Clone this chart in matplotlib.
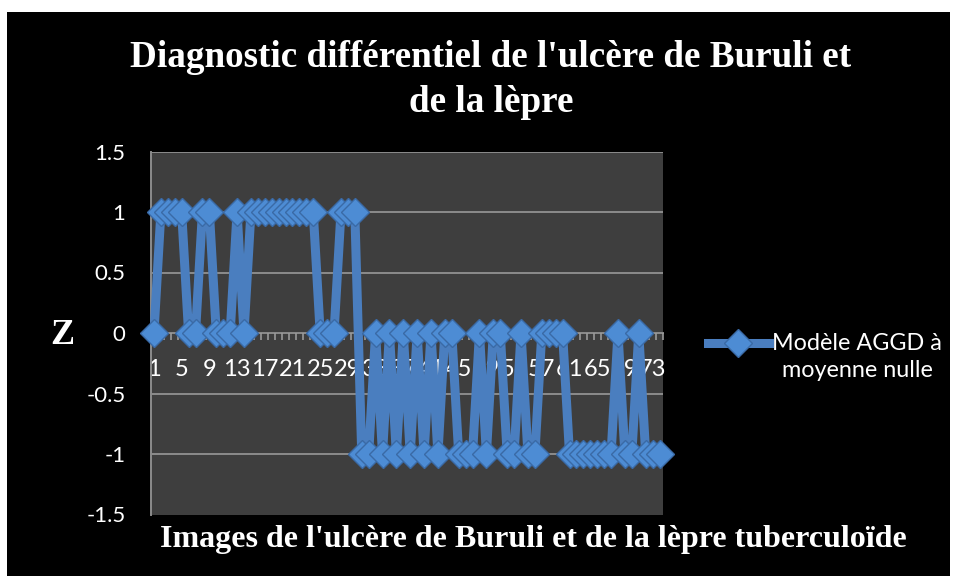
import matplotlib
matplotlib.use('Agg')
import matplotlib.pyplot as plt
from matplotlib.patches import Rectangle
from matplotlib.lines import Line2D
from matplotlib.ticker import FixedLocator, FixedFormatter
from matplotlib.legend_handler import HandlerLine2D

# ---- data ----
categories = list(range(1, 75))
z_values = [0, 1, 1, 1, 1, 0, 0, 1, 1, 0, 0, 0, 1, 0, 1, 1, 1, 1, 1, 1, 1, 1, 1, 1, 0, 0, 0, 1, 1, 1,
            -1, -1, 0, -1, 0, -1, 0, -1, 0, -1, 0, -1, 0, 0, -1, -1, -1, 0, -1, 0, 0, -1, -1, 0, -1, -1, 0, 0, 0, 0,
            -1, -1, -1, -1, -1, -1, -1, 0, -1, -1, 0, -1, -1, -1]
x_tick_labels = [str(c) for c in categories[::4]]
y_ticks = [1.5, 1, 0.5, 0, -0.5, -1, -1.5]
y_tick_labels = ['1.5', '1', '0.5', '0', '-0.5', '-1', '-1.5']
series_name = "Modèle AGGD à\nmoyenne nulle"
title = "Diagnostic différentiel de l'ulcère de Buruli et\nde la lèpre"
x_title = "Images de l'ulcère de Buruli et de la lèpre tuberculoïde"
y_title = "Z"

W, H = 957, 581
fig = plt.figure(figsize=(W / 100, H / 100), dpi=100)
fig.patch.set_facecolor('white')
bg = Rectangle((7 / W, 5 / H), 943 / W, 564 / H, transform=fig.transFigure,
               facecolor='black', edgecolor='none', zorder=-10)
fig.patches.append(bg)

left, right = 150.5 / W, 663 / W
bottom, top = 1 - 514.5 / H, 1 - 151.5 / H
ax = fig.add_axes([left, bottom, right - left, top - bottom])
ax.set_facecolor('#3e3e3e')

line_color = '#4a7ebf'
mk = dict(marker='D', markersize=14, markerfacecolor='#4d8cd4', markeredgecolor='#3a6aa6',
          markeredgewidth=1.0)
ax.plot(categories, z_values, color=line_color, lw=6.5, solid_joinstyle='miter',
        zorder=3, clip_on=False, **mk)

ax.set_xlim(0.5, len(categories) + 0.5)
ax.set_ylim(-1.5, 1.5)

for yv in [1.5, 1, 0.5, -0.5, -1]:
    ax.axhline(yv, color='#8c8c8c', lw=1.4, zorder=1)

for s in ['top', 'right']:
    ax.spines[s].set_visible(False)
ax.spines['left'].set_color('#8c8c8c')
ax.spines['left'].set_linewidth(1.4)
ax.spines['bottom'].set_position(('data', 0))
ax.spines['bottom'].set_color('#8c8c8c')
ax.spines['bottom'].set_linewidth(1.4)
ax.spines['bottom'].set_zorder(1)

ax.xaxis.set_major_locator(FixedLocator(categories[::4]))
ax.xaxis.set_major_formatter(FixedFormatter(x_tick_labels))
ax.xaxis.set_minor_locator(FixedLocator([c + 0.5 for c in [0] + categories]))
ax.tick_params(axis='x', which='major', length=0, pad=19, labelsize=17, labelcolor='white')
ax.tick_params(axis='x', which='minor', length=5, width=1.2, color='#9a9a9a', direction='out')

ax.yaxis.set_major_locator(FixedLocator(y_ticks))
ax.yaxis.set_major_formatter(FixedFormatter(y_tick_labels))
ax.tick_params(axis='y', length=0, pad=18, labelsize=16, labelcolor='white')
for lab in ax.get_xticklabels() + ax.get_yticklabels():
    lab.set_fontfamily('Lato')

fig.text(491 / W, 1 - 80 / H, title, ha='center', va='center', color='white',
         fontsize=26.7, fontweight='bold', family='Liberation Serif', linespacing=1.4)
fig.text(533 / W, 1 - 540 / H, x_title, ha='center', va='center', color='white',
         fontsize=23, fontweight='bold', family='Liberation Serif')
fig.text(62 / W, 1 - 335 / H, y_title, ha='center', va='center', color='white',
         fontsize=26, fontweight='bold', family='Liberation Serif')


class UpHandler(HandlerLine2D):
    def create_artists(self, legend, orig_handle, xdescent, ydescent, width, height,
                       fontsize, trans):
        return super().create_artists(legend, orig_handle, xdescent, ydescent - 21,
                                      width, height, fontsize, trans)


handle = Line2D([], [], color=line_color, lw=6.5, **mk)
leg = fig.legend([handle], [series_name], loc='center left',
                 bbox_to_anchor=(708 / W, 1 - 357 / H), frameon=False,
                 borderpad=0, borderaxespad=0,
                 handlelength=2.6, handletextpad=0.15,
                 handler_map={Line2D: UpHandler()},
                 prop={'family': 'Lato', 'size': 16.8})
for t in leg.get_texts():
    t.set_color('white')
    t.set_multialignment('center')
    t.set_linespacing(1.35)

fig.savefig('out.png', dpi=100, facecolor=fig.get_facecolor())
